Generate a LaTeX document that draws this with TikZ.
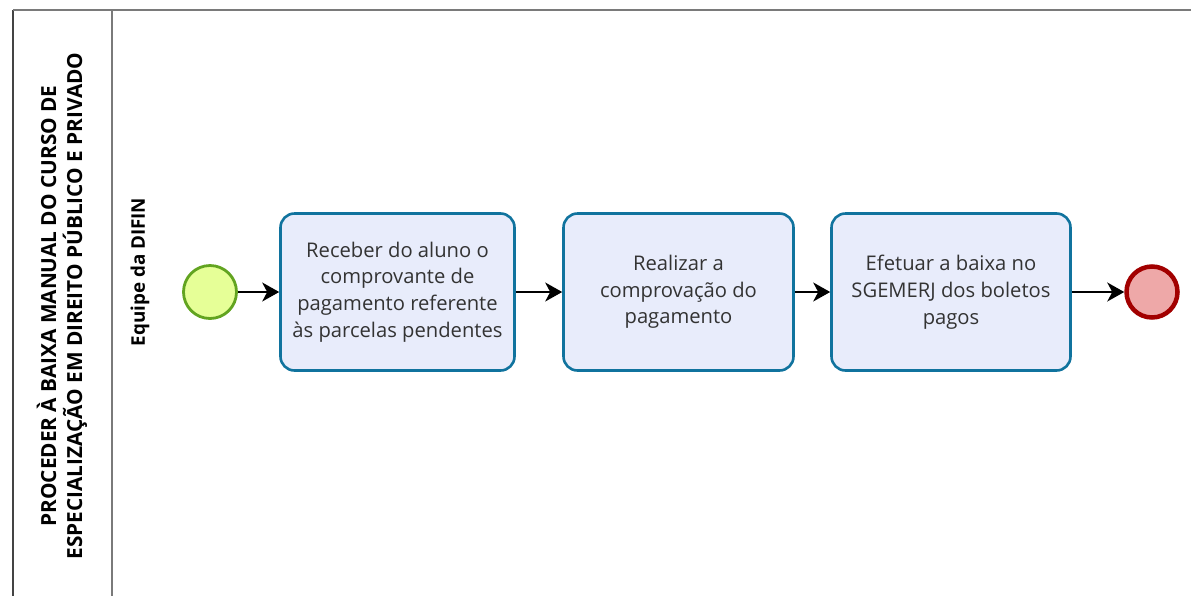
\documentclass[tikz,border=0pt]{standalone}
\usepackage{fontspec}
\setmainfont{Open Sans}
\usetikzlibrary{arrows.meta}
\definecolor{taskfill}{HTML}{E8ECFB}
\definecolor{taskdraw}{HTML}{10739E}
\definecolor{startfill}{HTML}{E6FF97}
\definecolor{startdraw}{HTML}{62A420}
\definecolor{endfill}{HTML}{EEA8A8}
\definecolor{enddraw}{HTML}{A20000}
\definecolor{poolline}{HTML}{444444}
\definecolor{laneline}{HTML}{7A7A7A}
\begin{document}
\begin{tikzpicture}[x=1pt,y=-1pt,
  task/.style={draw=taskdraw, fill=taskfill, line width=2.6pt, rounded corners=14pt,
    minimum height=157pt, align=center, inner sep=0pt,
    font=\fontsize{20.2}{26.7}\selectfont, text=black!80},
  startev/.style={circle, draw=startdraw, fill=startfill, line width=2.8pt, minimum size=53pt, inner sep=0pt},
  endev/.style={circle, draw=enddraw, fill=endfill, line width=4.5pt, minimum size=51pt, inner sep=0pt},
  flow/.style={draw=black, line width=1.6pt, -{Stealth[length=17pt,width=19pt,inset=5pt]}},
  bold label/.style={font=\bfseries\fontsize{20.8}{26}\selectfont, rotate=90, align=center, inner sep=0pt}]
\useasboundingbox (0,0) rectangle (1191,595);
\fill[white] (0,0) rectangle (1191,595);
% pool and lane lines
\draw[poolline, line width=1.6pt] (13,10) -- (13,600);
\draw[laneline, line width=1.4pt] (13,10) -- (1195,10);
\draw[laneline, line width=1.4pt] (112,10) -- (112,600);
% labels
\node[bold label] (pool) at (62,306) {PROCEDER À BAIXA MANUAL DO CURSO DE\\ESPECIALIZAÇÃO EM DIREITO PÚBLICO E PRIVADO};
\node[bold label, font=\bfseries\fontsize{18.8}{27}\selectfont] (lane) at (140,272) {Equipe da DIFIN};
% events and tasks
\node[startev] (start) at (210,292) {};
\node[task, minimum width=234pt] (t1) at (397.5,292) {Receber do aluno o\\comprovante de\\pagamento referente\\às parcelas pendentes};
\node[task, minimum width=230pt] (t2) at (678.5,292) {Realizar a\\comprovação do\\pagamento};
\node[task, minimum width=239pt] (t3) at (951,292) {Efetuar a baixa no\\SGEMERJ dos boletos\\pagos};
\node[endev] (end) at (1152,292) {};
% flows
\draw[flow] (start) -- (t1);
\draw[flow] (t1) -- (t2);
\draw[flow] (t2) -- (t3);
\draw[flow] (t3) -- (end);
\end{tikzpicture}
\end{document}
